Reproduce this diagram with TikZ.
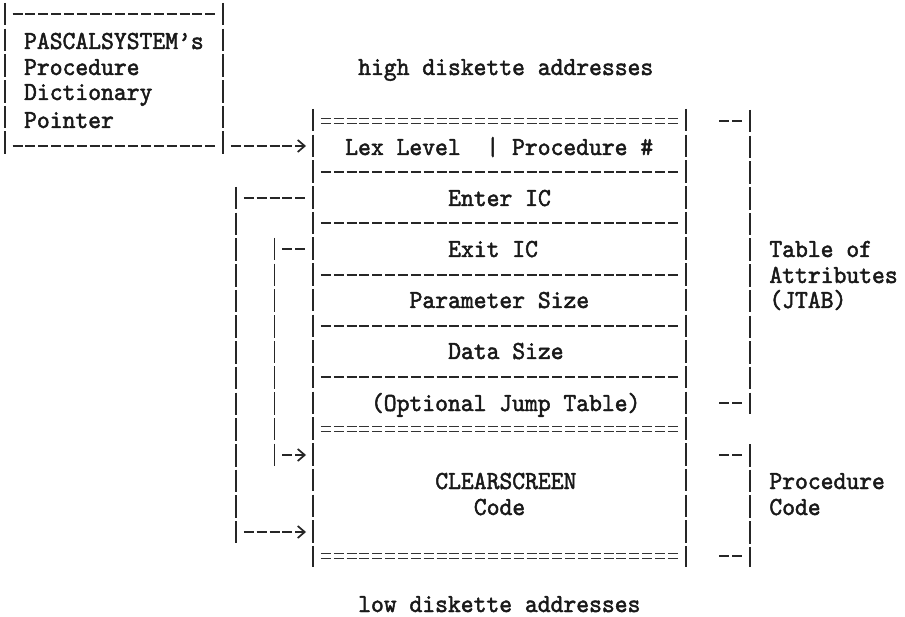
\documentclass[tikz,border=0pt]{standalone}
\usepackage{fontspec}
\usetikzlibrary{arrows.meta}
\newfontfamily\tw[Extension=.otf,FakeStretch=0.94,FakeBold=1.8]{lmmono10-regular}
\tikzset{
  lbl/.style={font=\tw\fontsize{26}{26}\selectfont, inner sep=0pt, anchor=base west, text=black!90},
  dashln/.style={line width=2pt, dash pattern=on 10pt off 2.85pt, black!85},
  barln/.style={line width=1.9pt, dash pattern=on 22.5pt off 3.2pt, black!85},
  eqln/.style={line width=1.2pt, dash pattern=on 10pt off 2.85pt, black!80},
  tip/.style={-{Straight Barb[length=7pt,width=12pt,line width=1.7pt]}},
}
\newcommand\eqline[3]{%
  \draw[eqln] (#1,{#3-2.2}) -- (#2,{#3-2.2});
  \draw[eqln] (#1,{#3+2.2}) -- (#2,{#3+2.2});}
\begin{document}
\begin{tikzpicture}[x=1pt,y=-1pt]
\useasboundingbox[fill=white] (0,0) rectangle (905,617);

% ---------- texts ----------
\node[lbl] (t1) at (23.9,49) {PASCALSYSTEM’s};
\node[lbl] (t2) at (23.9,75) {Procedure};
\node[lbl] (t3) at (23.9,100) {Dictionary};
\node[lbl] (t4) at (23.9,128) {Pointer};
\node[lbl] (high) at (358,75) {high diskette addresses};
\node[lbl] (lex) at (345.1,155) {Lex Level~~| Procedure \#};
\node[lbl] (enter) at (448,206) {Enter IC};
\node[lbl] (exit) at (448,257) {Exit IC};
\node[lbl] (param) at (409.4,308) {Parameter Size};
\node[lbl] (data) at (448,359) {Data Size};
\node[lbl] (jump) at (370.8,411) {(Optional Jump Table)};
\node[lbl] (clr) at (435.1,489) {CLEARSCREEN};
\node[lbl] (code) at (473.7,515) {Code};
\node[lbl] (low) at (358,612) {low diskette addresses};
\node[lbl] (ta1) at (769.2,257) {Table of};
\node[lbl] (ta2) at (769.2,283) {Attributes};
\node[lbl] (ta3) at (769.2,308) {(JTAB)};
\node[lbl] (pc1) at (769.2,489) {Procedure};
\node[lbl] (pc2) at (769.2,515) {Code};

% ---------- coordinates ----------
\coordinate (lbTL) at (4.6,3);   \coordinate (lbBL) at (4.6,157);
\coordinate (lbTR) at (223.05,3); \coordinate (lbBR) at (223.05,157);
\coordinate (mbTL) at (313,109);  \coordinate (mbBL) at (313,567);
\coordinate (mbTR) at (685.65,109); \coordinate (mbBR) at (685.65,567);
\coordinate (oT) at (235.9,187); \coordinate (oB) at (235.9,543);
\coordinate (iT) at (274.45,238); \coordinate (iB) at (274.45,466);
\coordinate (b1T) at (749.9,110); \coordinate (b1B) at (749.9,414);
\coordinate (b2T) at (749.9,444); \coordinate (b2B) at (749.9,567);

% ---------- vertical bars ----------
\draw[barln] (lbTL) -- (lbBL);
\draw[barln] (lbTR) -- (lbBR);
\draw[barln] (mbTL) -- (mbBL);
\draw[barln] (mbTR) -- (mbBR);
\draw[barln] (oT) -- (oB);
\draw[barln] (iT) -- (iB);
\draw[barln] (b1T) -- (b1B);
\draw[barln] (b2T) -- (b2B);

% ---------- left box horizontals ----------
\draw[dashln] (12.5,14) -- (215.15,14);
\draw[dashln] (12.5,146) -- (215.15,146);

% ---------- main box rules ----------
\eqline{320.9}{677.75}{121}
\draw[dashln] (320.9,172) -- (677.75,172);
\draw[dashln] (320.9,223) -- (677.75,223);
\draw[dashln] (320.9,275) -- (677.75,275);
\draw[dashln] (320.9,326) -- (677.75,326);
\draw[dashln] (320.9,377) -- (677.75,377);
\eqline{320.9}{677.75}{429}
\eqline{320.9}{677.75}{556}

% ---------- connectors ----------
\coordinate (pA) at (230.95,146); \coordinate (pB) at (306,146);
\draw[dashln,tip] (pA) -- (pB);
\coordinate (eA) at (243.8,198); \coordinate (eB) at (305.2,198);
\draw[dashln] (eA) -- (eB);
\coordinate (xA) at (282.35,249); \coordinate (xB) at (305.2,249);
\draw[dashln] (xA) -- (xB);
\coordinate (xC) at (282.35,455); \coordinate (xD) at (306,455);
\draw[dashln,tip] (xC) -- (xD);
\coordinate (eC) at (243.8,532); \coordinate (eD) at (306,532);
\draw[dashln,tip] (eC) -- (eD);

% ---------- right bracket ticks ----------
\foreach \yy in {121,403,455,556}
  \draw[dashln] (719.2,\yy) -- (742.05,\yy);
\end{tikzpicture}
\end{document}
